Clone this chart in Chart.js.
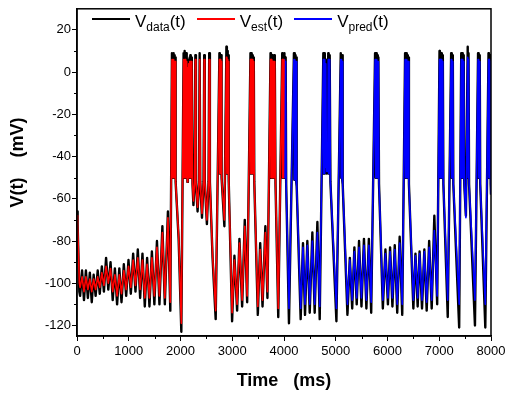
<!DOCTYPE html>
<html>
<head>
<meta charset="utf-8">
<script src="https://cdn.jsdelivr.net/npm/chart.js@4.4.1/dist/chart.umd.min.js"></script>
<style>
body { margin: 0; background: #fff; }
#wrap { position: relative; width: 510px; height: 394px; }
#legend { position: absolute; left: 92px; top: 12px; display: flex; align-items: center;
  font-family: 'Liberation Sans', Arial, sans-serif; font-size: 17px; color: #000; white-space: nowrap; }
.item { display: flex; align-items: center; margin-right: 11px; }
.sample { display: inline-block; width: 38px; height: 2px; margin-right: 5px; position: relative; top: -3px; }
sub { font-size: 12px; vertical-align: -4px; line-height: 0; }
</style>
</head>
<body>
<div id="wrap">
<canvas id="chart" width="510" height="394"></canvas>
<div id="legend">
  <div class="item"><span class="sample" style="background:#000"></span><span>V<sub>data</sub>(t)</span></div>
  <div class="item"><span class="sample" style="background:#ff0000"></span><span>V<sub>est</sub>(t)</span></div>
  <div class="item"><span class="sample" style="background:#0000ff"></span><span>V<sub>pred</sub>(t)</span></div>
</div>
</div>
<script>
// first half (0 - 4000 ms): recorded trace and estimation
const time1 = [
    0, 12, 45, 60, 98, 135, 172, 210, 248, 285, 322, 360, 400, 440, 480, 520,
    562, 605, 648, 690, 732, 775, 818, 860, 905, 950, 995, 1040, 1085, 1130, 1175, 1220,
    1265, 1310, 1355, 1400, 1447, 1495, 1545, 1593, 1650, 1697, 1757, 1803,
    1835, 1843, 1851, 1859, 1867, 1875, 1883, 1891, 1899, 1906, 1964, 2016,
    2060, 2068, 2076, 2084, 2092, 2100, 2108, 2116, 2124, 2134, 2142, 2150, 2158, 2166, 2174, 2182, 2190, 2198, 2206, 2214, 2222, 2232,
    2250, 2272, 2287, 2298, 2330, 2357, 2370, 2382, 2415, 2445, 2458, 2470, 2510, 2542, 2555, 2568, 2620, 2680,
    2752, 2760, 2768, 2776, 2784, 2794, 2848, 2887, 2896, 2904, 2912, 2920, 2932, 2997,
    3042, 3094, 3139, 3191, 3242, 3288, 3352, 3360, 3368, 3376, 3384, 3392, 3400, 3408, 3416, 3426,
    3494, 3540, 3585, 3640, 3680, 3740, 3748, 3756, 3764, 3772, 3780, 3790, 3800, 3810, 3818, 3826, 3836, 3889,
    3966, 3974, 3982, 3990, 4000
]
const vData1 = [
    -66, -72, -104, -106, -94, -108, -94, -107, -95, -109, -96, -106, -94, -105, -92, -104,
    -88, -103, -90, -108, -93, -110, -93, -109, -91, -106, -89, -105, -86, -104, -84, -107,
    -86, -111, -88, -111, -85, -110, -80, -110, -73, -110, -66, -113,
    9, -50, 8, -50, 9, -50, 8, -50, 7, -52, -79, -123,
    9, -50, 10, -50, 9, -50, 9, -50, 7, -52, 3, -50, 6, -50, 7, -50, 8, -50, 7, -50, 6, -53,
    -63, -52, 8, -52, -66, -52, 9, -52, -69, -52, 8, -52, -72, -52, 9, -52, -88, -117,
    9, -48, 8, -48, 8, -50, -73, 12, -48, 10, -48, 8, -52, -118,
    -87, -113, -79, -111, -70, -109, 9, -48, 9, -48, 8, -48, 8, -48, 7, -52,
    -115, -81, -111, -73, -107, 9, -50, 8, -50, 8, -50, 7, -50, 8, -50, 6, -53, -116,
    9, -50, 8, -50, 8
]
const vEst = [
    -68, -72, -100, -102, -97, -104, -97, -103, -98, -104, -98, -103, -97, -102, -95, -101,
    -92, -100, -93, -104, -96, -106, -96, -105, -94, -103, -92, -102, -89, -101, -88, -103,
    -89, -107, -91, -107, -88, -106, -83, -106, -76, -107, -69, -109,
    6, -50, 6, -50, 6, -50, 5, -50, 5, -52, -78, -119,
    6, -50, 6, -50, 6, -50, 5, -50, 4, -52, 2, -50, 4, -50, 5, -50, 5, -50, 5, -50, 4, -53,
    -61, -52, 6, -52, -64, -52, 6, -52, -67, -52, 6, -52, -70, -52, 6, -52, -87, -113,
    6, -48, 6, -48, 5, -50, -70, 7, -48, 6, -48, 5, -52, -114,
    -89, -110, -81, -108, -73, -106, 6, -48, 6, -48, 6, -48, 5, -48, 5, -52,
    -111, -84, -108, -76, -104, 6, -50, 6, -50, 5, -50, 5, -50, 5, -50, 4, -53, -112,
    6, -50, 6, -50, 6
]

// second half (4000 - 8000 ms): recorded trace and prediction
const time2 = [
    4000, 4008, 4016, 4024, 4032, 4042, 4096,
    4192, 4200, 4208, 4216, 4224, 4232, 4240, 4250, 4322, 4367, 4406, 4451, 4497, 4548, 4593, 4645, 4690,
    4760, 4768, 4776, 4784, 4792, 4800, 4808, 4818, 4826, 4834, 4845, 4855, 4863, 4871, 4879, 4887, 4897, 5013,
    5097, 5105, 5113, 5121, 5129, 5139, 5226, 5272, 5318, 5360, 5405, 5450, 5497, 5545, 5592, 5640, 5685,
    5760, 5768, 5776, 5784, 5792, 5800, 5808, 5816, 5824, 5836, 5910, 5960, 6008, 6050, 6095, 6140, 6188, 6235, 6285,
    6340, 6348, 6356, 6364, 6372, 6380, 6388, 6396, 6404, 6414, 6500, 6540, 6583, 6620, 6667, 6712, 6757, 6805, 6854, 6905, 6960,
    7005, 7013, 7021, 7029, 7037, 7045, 7053, 7061, 7069, 7080, 7164,
    7230, 7238, 7246, 7254, 7262, 7272, 7385, 7425, 7433, 7441, 7449, 7457, 7465, 7473, 7483, 7515, 7550, 7558, 7566, 7576, 7690,
    7750, 7758, 7766, 7774, 7782, 7792, 7890, 7952, 7960, 7968, 7976, 7984, 7994, 8000
]
const vData2 = [
    8, -50, 9, -50, 7, -53, -119,
    9, -51, 9, -51, 8, -51, 7, -54, -117, -81, -115, -80, -114, -76, -114, -71, -117,
    9, -48, 9, -48, 8, -45, 6, -40, -48, -38, -47, 9, -48, 8, -48, 8, -52, -118,
    9, -50, 8, -50, 8, -53, -115, -88, -112, -83, -110, -80, -111, -79, -112, -79, -114,
    9, -50, 8, -50, 9, -50, 8, -50, 7, -53, -112, -84, -110, -83, -111, -82, -114, -78, -115,
    9, -50, 8, -50, 9, -50, 8, -50, 7, -53, -112, -86, -111, -85, -112, -84, -113, -80, -112, -68, -110,
    10, -50, 9, -50, 9, -50, 8, -50, 8, -53, -116,
    9, -50, 8, -50, 8, -53, -121, 9, -50, 8, -50, 9, -50, 8, -53, -68, 12, -50, 9, -53, -120,
    9, -50, 8, -50, 8, -53, -121, 9, -50, 8, -50, 8, -53, -58
]
const vPred = [
    6, -50, 6, -50, 5, -55, -112,
    6, -51, 6, -51, 5, -51, 5, -54, -112, -83, -110, -82, -110, -80, -110, -76, -111,
    6, -48, 6, -48, 5, -45, 4, -42, -47, -42, -47, 6, -48, 6, -48, 5, -52, -112,
    6, -50, 6, -50, 5, -53, -110, -89, -108, -85, -107, -83, -107, -82, -108, -82, -109,
    6, -50, 6, -50, 6, -50, 5, -50, 5, -53, -108, -86, -107, -85, -107, -84, -110, -81, -110,
    6, -50, 6, -50, 6, -50, 5, -50, 5, -53, -108, -87, -107, -86, -108, -85, -109, -83, -108, -75, -106,
    6, -50, 6, -50, 6, -50, 5, -50, 5, -53, -108,
    6, -50, 6, -50, 5, -53, -110, 6, -50, 6, -50, 6, -50, 5, -53, -69, 7, -50, 6, -53, -108,
    6, -50, 6, -50, 5, -53, -110, 6, -50, 6, -50, 5, -53, -58
]

// axes
const xTicks = [0, 1000, 2000, 3000, 4000, 5000, 6000, 7000, 8000]
const xMinor = [500, 1500, 2500, 3500, 4500, 5500, 6500, 7500]
const yTicks = [-120, -100, -80, -60, -40, -20, 0, 20]
const yMinor = [-110, -90, -70, -50, -30, -10, 10]

const fontFamily = "'Liberation Sans', Arial, sans-serif"

function points(t, v){
    let out = []
    for (let i = 0; i < t.length; i++){
        out.push({x: t[i], y: v[i]})
    }
    return out
}

// box around the plot + minor ticks
const frame = {
    id: 'frame',
    afterDraw(chart){
        const {ctx, chartArea: a, scales} = chart
        ctx.save()
        ctx.strokeStyle = '#000'
        ctx.lineWidth = 1.5
        ctx.strokeRect(a.left, a.top, a.right - a.left, a.bottom - a.top)
        ctx.lineWidth = 1
        ctx.beginPath()
        for (const v of xMinor){
            let px = Math.round(scales.x.getPixelForValue(v)) + 0.5
            ctx.moveTo(px, a.bottom)
            ctx.lineTo(px, a.bottom + 3)
        }
        for (const v of yMinor){
            let py = Math.round(scales.y.getPixelForValue(v)) + 0.5
            ctx.moveTo(a.left, py)
            ctx.lineTo(a.left - 3, py)
        }
        ctx.stroke()
        ctx.restore()
    }
}

let ctx = document.getElementById('chart').getContext('2d')
window.chart = new Chart(ctx, {
    type: 'line',
    data: {
        datasets: [
            {
                label: 'Vdata(t)',
                data: points(time1.concat(time2), vData1.concat(vData2)),
                borderColor: '#000000',
                borderWidth: 2.4,
                order: 2
            },
            {
                label: 'Vest(t)',
                data: points(time1, vEst),
                borderColor: '#ff0000',
                borderWidth: 1.6,
                order: 1
            },
            {
                label: 'Vpred(t)',
                data: points(time2, vPred),
                borderColor: '#0000ff',
                borderWidth: 1.6,
                order: 1
            }
        ]
    },
    options: {
        responsive: false,
        animation: false,
        devicePixelRatio: 1,
        events: [],
        elements: {
            point: {radius: 0},
            line: {tension: 0, fill: false, borderJoinStyle: 'round'}
        },
        layout: {padding: {top: 3, right: 19, left: 0, bottom: 0}},
        plugins: {
            legend: {display: false},
            tooltip: {enabled: false}
        },
        scales: {
            x: {
                type: 'linear',
                min: 0,
                max: 8000,
                afterBuildTicks: s => { s.ticks = xTicks.map(v => ({value: v})) },
                afterFit: s => { s.height = 58 },
                ticks: {
                    autoSkip: false,
                    maxRotation: 0,
                    padding: 3,
                    color: '#000',
                    font: {family: fontFamily, size: 13},
                    callback: v => String(v)
                },
                grid: {display: true, drawOnChartArea: false, drawTicks: true, tickLength: 5, color: '#000'},
                border: {display: true, color: '#000', width: 1.5},
                title: {
                    display: true,
                    text: 'Time   (ms)',
                    color: '#000',
                    font: {family: fontFamily, size: 18, weight: 'bold'},
                    padding: {top: 0, bottom: 2}
                }
            },
            y: {
                type: 'linear',
                min: -125,
                max: 30,
                afterBuildTicks: s => { s.ticks = yTicks.map(v => ({value: v})) },
                afterFit: s => { s.width = 77 },
                ticks: {
                    padding: 1,
                    color: '#000',
                    font: {family: fontFamily, size: 13},
                    callback: v => String(v)
                },
                grid: {display: true, drawOnChartArea: false, drawTicks: true, tickLength: 5, color: '#000'},
                border: {display: true, color: '#000', width: 1.5},
                title: {
                    display: true,
                    text: '    V(t)    (mV)',
                    color: '#000',
                    font: {family: fontFamily, size: 18, weight: 'bold'},
                    padding: {top: 7, bottom: 0}
                }
            }
        }
    },
    plugins: [frame]
});
</script>
</body>
</html>
